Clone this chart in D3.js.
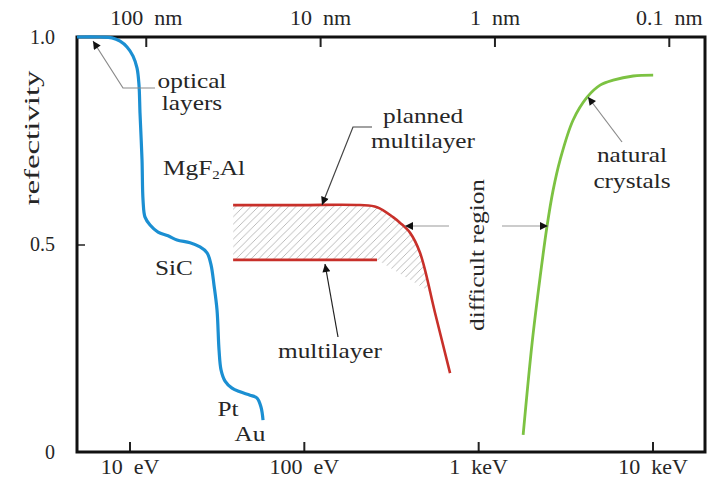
<!DOCTYPE html>
<html><head><meta charset="utf-8">
<script src="https://cdn.jsdelivr.net/npm/d3@7"></script>
<style>
body{margin:0;background:#fff;}
text{font-family:"Liberation Serif","Tinos","Times New Roman",Times,serif;fill:#262626;}
</style></head>
<body><svg id="c" width="707" height="489"></svg>
<script>
// ---- data ----
const bottomTicks = [10, 100, 1000, 10000];
const bottomTickLabels = ["10  eV", "100  eV", "1  keV", "10  keV"];
const topTicksNm = [100, 10, 1, 0.1];
const topTickLabels = ["100  nm", "10  nm", "1  nm", "0.1  nm"];
const yTicks = [0, 0.5, 1.0];
const yTickLabels = ["0", "0.5", "1.0"];

// optical layers (eV, reflectivity)
const opticalE = [5.00, 6.78, 7.94, 8.83, 9.68, 10.48, 11.05, 11.34, 11.49, 11.80, 11.96, 12.28, 13.12, 14.58, 16.64, 18.74, 22.25, 25.39, 27.85, 29.36, 30.54, 31.78, 32.63, 33.50, 35.33, 38.74, 43.07, 49.15, 53.90, 56.83, 58.34];
const opticalR = [1.0, 1.0, 0.998, 0.990, 0.976, 0.954, 0.925, 0.884, 0.817, 0.704, 0.607, 0.566, 0.547, 0.530, 0.521, 0.511, 0.504, 0.494, 0.480, 0.451, 0.402, 0.342, 0.246, 0.198, 0.171, 0.154, 0.145, 0.137, 0.130, 0.108, 0.077];

// planned multilayer
const plannedE = [39.3, 95, 210, 263, 325, 357, 407, 464, 566, 690];
const plannedR = [0.595, 0.595, 0.595, 0.590, 0.566, 0.552, 0.528, 0.480, 0.335, 0.190];

// multilayer (current)
const multilayerE = [39.3, 263];
const multilayerR = [0.463, 0.463];

// hatched gap region (clipped below the planned curve)
const hatchE = [39.3, 263, 646, 646, 39.3];
const hatchR = [0.463, 0.463, 0.364, 0.62, 0.62];

// natural crystals
const crystalE = [1811, 2039, 2267, 2485, 2691, 2951, 3505, 4217, 5007, 5945, 7745, 10085];
const crystalR = [0.041, 0.263, 0.422, 0.545, 0.631, 0.704, 0.800, 0.855, 0.884, 0.896, 0.906, 0.908];

// ---- chart ----
const svg = d3.select("#c");
const L = 77, R = 705, T = 37, B = 452;
const HC = 1239.84; // eV*nm
const x = d3.scaleLog().domain([5, 20000]).range([L, R]);
const xTop = d3.scaleLog().domain([HC / 5, HC / 20000]).range([L, R]);
const y = d3.scaleLinear().domain([0, 1]).range([B, T]);

const defs = svg.append("defs");
const pat = defs.append("pattern").attr("id", "hatch").attr("patternUnits", "userSpaceOnUse")
  .attr("width", 7.5).attr("height", 7.5);
pat.append("path").attr("d", "M-2,2 L2,-2 M0,7.5 L7.5,0 M5.5,9.5 L9.5,5.5")
  .attr("stroke", "#b4b4b4").attr("stroke-width", 0.9);
function marker(id, color) {
  defs.append("marker").attr("id", id).attr("viewBox", "0 0 10 10")
    .attr("refX", 10).attr("refY", 5).attr("markerWidth", 12).attr("markerHeight", 8)
    .attr("markerUnits", "userSpaceOnUse").attr("orient", "auto")
    .append("path").attr("d", "M0,0 L10,5 L0,10 Z").attr("fill", color);
}
marker("ah", "#111");

const plannedPts = plannedE.map((e, i) => [e, plannedR[i]]);
const curve = d3.curveCatmullRom.alpha(0.5);

// clip: area under planned curve
defs.append("clipPath").attr("id", "underPlanned").append("path")
  .attr("d", d3.area().x(d => x(d[0])).y0(B).y1(d => y(d[1])).curve(curve)(plannedPts));

svg.append("path")
  .attr("d", d3.line().x(d => x(d[0])).y(d => y(d[1]))(hatchE.map((e, i) => [e, hatchR[i]])) + "Z")
  .attr("fill", "url(#hatch)").attr("clip-path", "url(#underPlanned)");

// axes
const fs = 20;
const gb = svg.append("g").attr("transform", `translate(0,${B})`)
  .call(d3.axisBottom(x).tickValues(bottomTicks).tickFormat((d, i) => bottomTickLabels[i])
    .tickSize(-10).tickSizeOuter(0).tickPadding(8));
const gt = svg.append("g").attr("transform", `translate(0,${T})`)
  .call(d3.axisTop(xTop).tickValues(topTicksNm).tickFormat((d, i) => topTickLabels[i])
    .tickSize(-10).tickSizeOuter(0).tickPadding(12));
const gl = svg.append("g").attr("transform", `translate(${L},0)`)
  .call(d3.axisLeft(y).tickValues(yTicks).tickFormat((d, i) => yTickLabels[i])
    .tickSize(-8).tickSizeOuter(0).tickPadding(22));
[gb, gt, gl].forEach(g => {
  g.attr("font-family", null);
  g.select(".domain").remove();
  g.selectAll(".tick line").attr("stroke", "#222").attr("stroke-width", 2);
  g.selectAll(".tick text").attr("font-size", fs)
    .attr("fill", "#262626").style("white-space", "pre");
});
gl.selectAll(".tick line").attr("stroke-width", 1.5).attr("opacity", (d) => d === 0.5 ? 1 : 0);
[gb, gt].forEach(g => g.selectAll(".tick text").attr("transform", "scale(1.1,1)"));

// frame
svg.append("rect").attr("x", L).attr("y", T).attr("width", R - L).attr("height", B - T)
  .attr("fill", "none").attr("stroke", "#111").attr("stroke-width", 3);

// y label
svg.append("text").attr("transform", `translate(39,138) rotate(-90)`)
  .attr("text-anchor", "middle").attr("font-size", 21)
  .attr("textLength", 135).attr("lengthAdjust", "spacingAndGlyphs").text("refectivity");

// curves
const line = d3.line().x(d => x(d[0])).y(d => y(d[1])).curve(curve);
svg.append("path").attr("d", line(opticalE.map((e, i) => [e, opticalR[i]])))
  .attr("fill", "none").attr("stroke", "#1b8fd2").attr("stroke-width", 3.2);
svg.append("path").attr("d", line(plannedPts))
  .attr("fill", "none").attr("stroke", "#c8302a").attr("stroke-width", 2.6);
svg.append("path").attr("d", line(multilayerE.map((e, i) => [e, multilayerR[i]])))
  .attr("fill", "none").attr("stroke", "#c8302a").attr("stroke-width", 2.6);
svg.append("path").attr("d", line(crystalE.map((e, i) => [e, crystalR[i]])))
  .attr("fill", "none").attr("stroke", "#7cc242").attr("stroke-width", 2.8);

// annotations
function label(cx, by, str, anchor) {
  return svg.append("text").attr("transform", `translate(${cx},${by}) scale(1.15,1)`)
    .attr("text-anchor", anchor || "middle").attr("font-size", 22).text(str);
}
function leader(pts, color) {
  svg.append("path").attr("d", d3.line()(pts)).attr("fill", "none")
    .attr("stroke", color).attr("stroke-width", 1.2).attr("marker-end", "url(#ah)");
}
label(192, 88, "optical");
label(192, 110, "layers");
leader([[155, 88], [123, 88], [93, 41]], "#8a8a8a");

const mg = svg.append("text").attr("transform", `translate(204,175) scale(1.15,1)`)
  .attr("text-anchor", "middle").attr("font-size", 22);
mg.append("tspan").text("MgF");
mg.append("tspan").attr("font-size", 13).attr("dy", 4).text("2");
mg.append("tspan").attr("dy", -4).text("Al");

label(174, 275, "SiC");
label(228, 416, "Pt");
label(250, 441, "Au");

label(423, 123, "planned");
label(423, 148, "multilayer");
leader([[372, 127], [353, 127], [322, 205]], "#444");

label(330, 358, "multilayer");
leader([[338, 337], [325, 264]], "#222");

svg.append("text").attr("transform", `translate(484,255) rotate(-90) scale(1.15,1)`)
  .attr("text-anchor", "middle").attr("font-size", 22).text("difficult region");
leader([[449, 226], [405, 226]], "#9a9a9a");
leader([[502, 226], [548, 226]], "#9a9a9a");

label(632, 162, "natural");
label(632, 188, "crystals");
leader([[622, 142], [588, 97]], "#8a8a8a");
</script></body></html>
